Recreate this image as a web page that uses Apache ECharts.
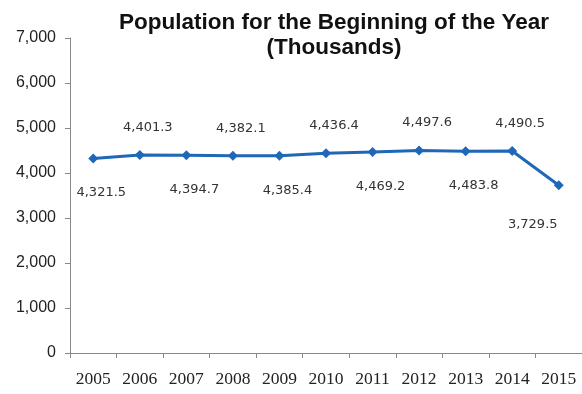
<!DOCTYPE html>
<html><head><meta charset="utf-8">
<script src="https://cdn.jsdelivr.net/npm/echarts@6/dist/echarts.min.js"></script>
<style>html,body{margin:0;padding:0;background:#fff}#c{width:582px;height:394px}</style>
</head><body><div id="c"></div>
<script>
var years = ['2005','2006','2007','2008','2009','2010','2011','2012','2013','2014','2015'];
var population = [4321.5, 4401.3, 4394.7, 4382.1, 4385.4, 4436.4, 4469.2, 4497.6, 4483.8, 4490.5, 3729.5];
var labelSide = ['bottom','top','bottom','top','bottom','top','bottom','top','bottom','top','bottom'];
var yTicks = [0, 1000, 2000, 3000, 4000, 5000, 6000, 7000];

function fmt(v){ return v.toLocaleString('en-US',{minimumFractionDigits:1, maximumFractionDigits:1}); }

var data = population.map(function(v,i){
  var lbl = {position:labelSide[i], distance: labelSide[i]==='top'?16:(i===10?28:23), offset:[8,0]};
  if (i === years.length-1) lbl.offset = [-26, 0];
  return {value:v, label:lbl};
});

var chart = echarts.init(document.getElementById('c'));
chart.setOption({
  animation:false,
  title:{
    text:'Population for the Beginning of the Year\n(Thousands)',
    left:329, top:5, textAlign:'center',
    textStyle:{fontFamily:'Liberation Sans, Arial', fontWeight:'bold', fontSize:22.5, color:'#111', lineHeight:25}
  },
  grid:{left:70, right:-3, top:38, bottom:41, containLabel:false},
  xAxis:{
    type:'category', data:years, boundaryGap:true,
    axisLine:{lineStyle:{color:'#888', width:1}},
    axisTick:{show:true, length:5, inside:false, lineStyle:{color:'#888'}},
    axisLabel:{interval:0, fontFamily:'Liberation Serif, serif', fontSize:17.5, color:'#222', margin:17}
  },
  yAxis:{
    type:'value', min:yTicks[0], max:yTicks[yTicks.length-1], interval:1000,
    splitLine:{show:false},
    axisLine:{show:true, lineStyle:{color:'#888', width:1}},
    axisTick:{show:true, length:5, lineStyle:{color:'#888'}},
    axisLabel:{fontFamily:'Liberation Sans, Arial', fontSize:16, color:'#222', margin:14,
      formatter:function(v){ return v.toLocaleString('en-US'); }}
  },
  series:[{
    type:'line', data:data,
    symbol:'diamond', symbolSize:10,
    lineStyle:{color:'#1f68b8', width:3},
    itemStyle:{color:'#1f68b8'},
    label:{show:true, fontFamily:'DejaVu Sans, sans-serif', fontSize:13, color:'#333',
      formatter:function(p){ return fmt(p.value); }}
  }]
});
</script></body></html>
